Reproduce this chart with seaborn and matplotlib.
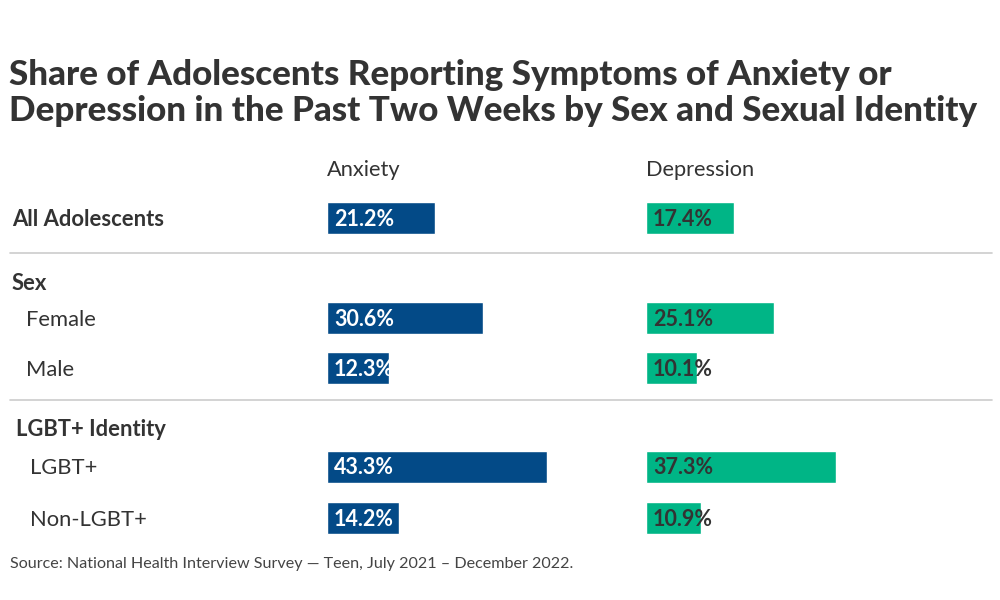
import numpy as np
import pandas as pd
import matplotlib
matplotlib.use("Agg")
import matplotlib.pyplot as plt
import seaborn as sns

# data
groups = ["All Adolescents", "Female", "Male", "LGBT+", "Non-LGBT+"]
anxiety = [21.2, 30.6, 12.3, 43.3, 14.2]
depression = [17.4, 25.1, 10.1, 37.3, 10.9]
section_labels = ["Sex", "LGBT+ Identity"]

title = ("Share of Adolescents Reporting Symptoms of Anxiety or\n"
         "Depression in the Past Two Weeks by Sex and Sexual Identity")
source = "Source: National Health Interview Survey \u2014 Teen, July 2021 \u2013 December 2022."

# layout (pixel rows, top = 0)
row_y = [218, 318, 368, 467, 518]
section_y = [282, 428]
label_x = [12, 26, 26, 30, 30]
section_x = [12, 16]
sep_y = [253, 400]

NAVY = "#034A87"
GREEN = "#00B586"
DARK = "#333333"

sns.set_theme(style="white")
plt.rcParams["font.family"] = ["Lato", "DejaVu Sans"]

W, H = 1000, 600
fig = plt.figure(figsize=(10, 6), dpi=100)

base = fig.add_axes([0, 0, 1, 1])
base.set_xlim(0, W)
base.set_ylim(H, 0)
base.axis("off")

df = pd.DataFrame({"group": groups, "row": row_y,
                   "Anxiety": anxiety, "Depression": depression})

px_per_pct = 5.1
panel_w = 300
cols = [("Anxiety", 326.5, NAVY, "white"), ("Depression", 645.5, GREEN, DARK)]
for name, x0, color, txtcolor in cols:
    ax = fig.add_axes([x0 / W, 0, panel_w / W, 1])
    sns.barplot(data=df, x=name, y="row", orient="h", native_scale=True,
                color=color, saturation=1, width=32 / 50, ax=ax)
    ax.set_xlim(0, panel_w / px_per_pct)
    ax.set_ylim(H, 0)
    ax.axis("off")
    ax.patch.set_alpha(0)
    for v, y in zip(df[name], df["row"]):
        ax.text(7.5 / px_per_pct, y + 1, f"{v}%", color=txtcolor, fontsize=15.5,
                fontweight="bold", va="center", ha="left")
    base.text(x0, 170, name, fontsize=15.7, color=DARK, va="center", ha="left")

# row labels
for g, y, x in zip(groups, row_y, label_x):
    bold = g == "All Adolescents"
    base.text(x, y + 1.5, g, fontsize=15.8, color=DARK, va="center", ha="left",
              fontweight="bold" if bold else "normal")
for s, y, x in zip(section_labels, section_y, section_x):
    base.text(x, y + 1.5, s, fontsize=15.8, color=DARK, va="center", ha="left",
              fontweight="bold")

for y in sep_y:
    base.plot([10, 992], [y, y], color="#cccccc", lw=1.2)

base.text(9, 93, title, fontsize=25.2, fontweight="black", color=DARK,
          va="center", ha="left", linespacing=1.13)
base.text(10, 564, source, fontsize=11.6, color="#444444", va="center", ha="left")

fig.savefig("out.png", dpi=100)
